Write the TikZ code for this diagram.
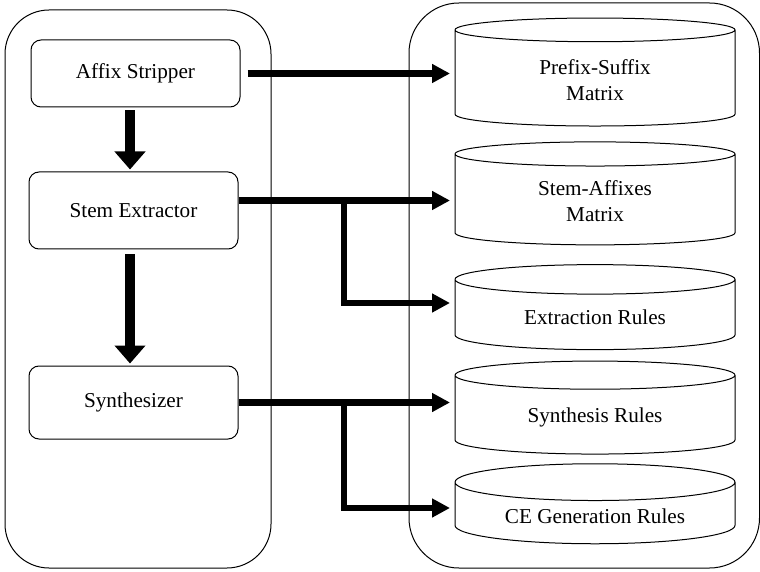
\documentclass[tikz,border=0pt]{standalone}
\usepackage{fontspec}
\setmainfont{Liberation Serif}
\usetikzlibrary{arrows.meta, shapes.geometric}
\tikzset{panel/.style = {shape = rectangle, draw, line width = 0.5pt}}
\tikzset{module/.style = {shape = rectangle, draw, line width = 0.5pt, rounded corners = 5pt, minimum width = 104.5pt}}
\tikzset{store/.style = {shape = cylinder, draw, line width = 0.5pt, shape border rotate = 90, aspect = 0.19, inner ysep = 2pt, minimum width = 140pt, align = center}}
\tikzset{flow/.style = {line width = 3.3pt, -{Triangle[length = 9pt, width = 9pt]}}}
\tikzset{pass/.style = {line width = 5.2pt, -{Triangle[length = 9pt, width = 15pt]}}}

\begin{document}
\begin{tikzpicture}[x = 0.5pt, y = -0.5pt, font = \rmfamily\fontsize{10.6pt}{13pt}\selectfont]
	\useasboundingbox (0, 0) rectangle (760, 572);

	% the two panels
	\node[panel, rounded corners = 22pt, minimum width = 133pt, minimum height = 279pt] (left) at (138, 289) {};
	\node[panel, rounded corners = 25pt, minimum width = 175.25pt, minimum height = 282.5pt] (right) at (584.25, 285.5) {};

	% modules
	\node[module, minimum height = 33.5pt] (affix) at (135.5, 73.5) {Affix Stripper};
	\node[module, minimum height = 38.5pt] (stem) at (133.5, 210.5) {Stem Extractor};
	\node[module, minimum height = 36.5pt] (synth) at (133.5, 402.5) {Synthesizer};

	% stores
	\node[store, minimum height = 54pt] (prefix) at (595, 80) {Prefix-Suffix\\Matrix};
	\node[store, minimum height = 51.5pt] (stemaff) at (595, 201.5) {Stem-Affixes\\Matrix};
	\node[store, minimum height = 42.5pt] (extract) at (595, 317) {Extraction Rules};
	\node[store, minimum height = 46.5pt] (synthrule) at (595, 417) {Synthesis Rules};
	\node[store, minimum height = 40pt] (cegen) at (595, 516) {CE Generation Rules};

	\coordinate (prefixin) at (450, 73.5);
	\coordinate (stemaffin) at (450, 200.5);
	\coordinate (extractin) at (450, 303);
	\coordinate (synthin) at (450, 402.5);
	\coordinate (cegenin) at (450, 508);
	\coordinate (split1) at (344, 200.5);
	\coordinate (split2) at (344, 402.5);

	\draw[pass] ([xshift = -2.75pt, yshift = -1.5pt]affix.south) -- ([xshift = -1.75pt, yshift = 1pt]stem.north);
	\draw[pass] ([xshift = -1.75pt, yshift = -2.5pt]stem.south) -- ([xshift = -1.75pt, yshift = 1pt]synth.north);

	\draw[flow] ([xshift = 3.5pt]affix.east) -- (prefixin);
	\draw[flow] ([yshift = 5pt]stem.east) -- (stemaffin);
	\draw[flow] (split1) |- (extractin);
	\draw[flow] (synth.east) -- (synthin);
	\draw[flow] (split2) |- (cegenin);
\end{tikzpicture}
\end{document}
